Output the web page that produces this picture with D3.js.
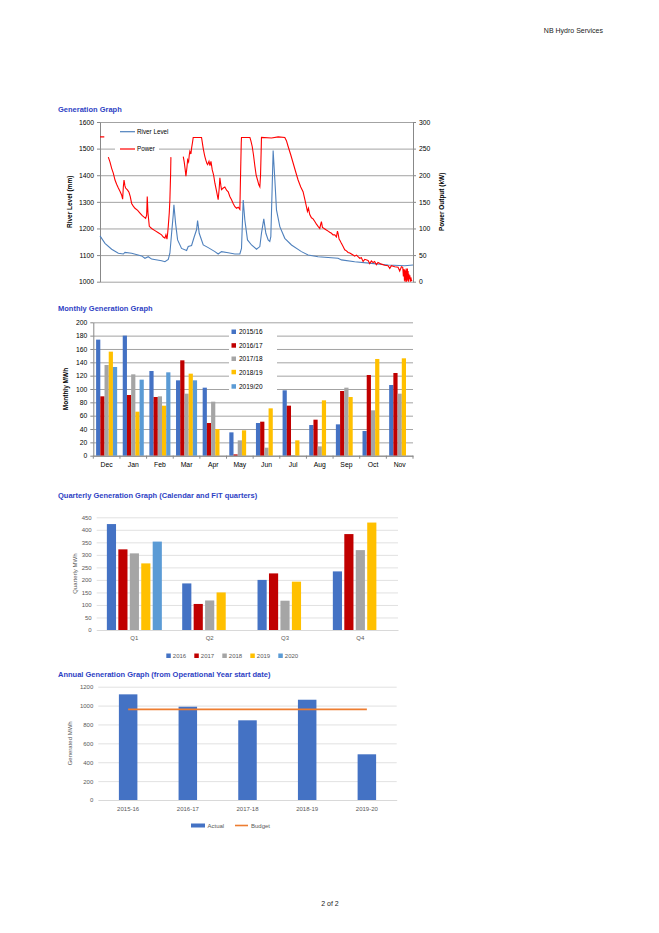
<!DOCTYPE html>
<html><head><meta charset="utf-8">
<script src="https://cdnjs.cloudflare.com/ajax/libs/d3/7.8.5/d3.min.js"></script>
<style>body{margin:0;background:#fff}svg{display:block}text{font-family:"Liberation Sans",Arial,sans-serif}</style>
</head><body><svg id="c" width="659" height="933"></svg>
<script>
// ---------- Chart 1 data ----------
const riverDay = [0,5.8,13.6,21.4,27.2,29.1,36.9,48.5,52.4,56.3,60.2,71.8,75.7,79.6,81.5,83.5,85.4,86.2,88.1,90.5,95.1,101.0,102.9,106.8,109.9,112.6,113.8,115.7,120.4,126.2,134.0,137.8,141.7,149.5,157.3,163.1,165.0,167.0,168.9,172.0,176.7,182.5,186.4,188.3,191.0,193.4,196.1,198.0,199.2,200.8,201.9,203.9,205.8,209.7,215.5,223.3,234.9,242.7,254.3,277.6,281.5,297.0,316.5,335.9,355.3,365];
const riverLevel = [1172,1144,1122,1107,1104,1110,1107,1097,1088,1094,1085,1079,1075,1084,1107,1182,1251,1289,1220,1157,1125,1117,1132,1136,1169,1195,1230,1182,1138,1128,1113,1104,1113,1109,1104,1104,1125,1307,1232,1157,1138,1122,1132,1182,1236,1182,1157,1151,1169,1358,1493,1383,1270,1207,1163,1138,1113,1100,1094,1088,1082,1075,1069,1063,1060,1063];
const powerDay = [0,5.0,7,9.7,11.6,13.6,15.5,17.5,19.4,21.4,23.3,25.2,26.4,27.2,28.0,29.1,29.9,32.2,33.8,35.3,36.9,38.8,40.8,43.9,46.6,49.3,53.2,54.4,55.1,55.9,57.5,60.2,64.1,68.0,71.8,73.8,75.7,76.9,78.1,78.9,79.6,80.8,81.5,82.3,82.7,90,97.1,98.2,99.4,100.2,101.4,102.2,103.3,104.1,104.8,106.0,106.8,107.9,108.7,118.4,120.4,121.6,122.3,123.5,124.7,125.5,127.1,128.2,129.4,130.9,132.5,134.0,135.9,137.8,139.0,139.8,141.0,141.7,143.7,145.6,147.6,149.5,151.4,153.4,155.3,157.3,159.2,161.2,163.1,163.9,164.7,165.0,174.8,175.9,177.5,179.0,180.6,182.1,183.7,185.2,186.4,187.2,188.0,188.3,200.0,207.8,215.5,217.4,219.4,222.5,225.2,227.9,231.0,234.1,236.8,238.8,240.7,241.9,243.1,244.6,246.6,248.5,250.5,252.4,254.3,256.3,257.4,258.2,259.4,261.3,264.0,266.0,267.9,269.9,271.8,273.8,275.7,276.9,277.6,278.8,280.0,281.5,283.5,285.4,287.4,289.3,291.3,293.2,295.1,297.0,299.0,300.9,302.9,304.8,306.8,308.7,312.6,314.5,316.5,318.4,320.3,322.3,324.2,328.1,332.0,335.9,337.9,339.8,343.7,347.6,349.5,351.5,353.0,353.8,354.6,355.0,355.4,355.8,356.2,356.6,357.0,357.4,357.7,358.1,358.5,358.9,359.3,359.7,360.1,360.5,361.3,361.9,362.5,363.2,364.0,365];
const powerKW = [272,272,null,234,225,213,204,191,183,176,170,163,155,178,191,180,176,172,168,160,147,142,138,134,129,124,119,125,160,130,104,100,96,92,88,84,82,88,80,91,104,130,154,200,234,null,235,225,210,198,215,229,225,238,245,240,251,262,271,271,250,240,235,228,222,220,226,218,226,210,200,185,170,154,175,195,180,173,176,178,172,169,160,154,147,141,138,140,136,200,260,271,271,265,254,238,217,200,191,182,178,200,250,271,270,272,271,265,254,238,223,208,191,178,169,155,141,132,138,126,120,118,113,108,104,100,108,113,102,100,97,95,93,91,88,88,84,95,91,80,77,72,66,60,58,55,54,52,50,48,50,47,44,45,38,42,40,34,39,36,38,32,36,33,31,30,25,30,28,27,20,28,27,10,24,2,22,0,20,3,25,0,18,4,25,2,20,0,15,5,12,0,8,2,3];
const riverTicks = [1000,1100,1200,1300,1400,1500,1600];
const powerTicks = [0,50,100,150,200,250,300];

// ---------- Chart 2 data ----------
const months = ["Dec","Jan","Feb","Mar","Apr","May","Jun","Jul","Aug","Sep","Oct","Nov"];
const seasons = ["2015/16","2016/17","2017/18","2018/19","2019/20"];
const m1516 = [174,180,127,113,102,35,49,98,46,47,37,106];
const m1617 = [89,91,88,143,49,2,51,75,54,97,121,124];
const m1718 = [136,122,89,93,81,23,12,1,14,102,68,93];
const m1819 = [156,66,75,123,40,38,71,23,83,88,145,146];
const m1920 = [133,114,125,113,null,null,null,null,null,null,null,null];
const monthlyTicks = [0,20,40,60,80,100,120,140,160,180,200];

// ---------- Chart 3 data ----------
const quarters = ["Q1","Q2","Q3","Q4"];
const years = ["2016","2017","2018","2019","2020"];
const q2016 = [423,186,200,234];
const q2017 = [322,104,226,383];
const q2018 = [306,118,117,319];
const q2019 = [266,150,193,429];
const q2020 = [353,null,null,null];
const quarterTicks = [0,50,100,150,200,250,300,350,400,450];

// ---------- Chart 4 data ----------
const opYears = ["2015-16","2016-17","2017-18","2018-19","2019-20"];
const actual = [1119,988,844,1062,484];
const budget = [960,960,960,960,960];
const annualTicks = [0,200,400,600,800,1000,1200];

const svg = d3.select("#c");
svg.append("rect").attr("width",659).attr("height",933).attr("fill","#fff");
const titleColor = "#2E3FC4";
const fmt = d3.format("d");

svg.append("text").attr("x",603).attr("y",33).attr("text-anchor","end").attr("font-size",7).attr("fill","#222").text("NB Hydro Services");
svg.append("text").attr("x",330).attr("y",906).attr("text-anchor","middle").attr("font-size",7).attr("fill","#222").text("2 of 2");

function title(y, t){ svg.append("text").attr("x",58).attr("y",y).attr("font-size",7.5).attr("font-weight","bold").attr("fill",titleColor).text(t); }
title(112,"Generation Graph");
title(311,"Monthly Generation Graph");
title(498,"Quarterly Generation Graph (Calendar and FiT quarters)");
title(677,"Annual Generation Graph (from Operational Year start date)");

function styleText(a, size, color){ a.selectAll("text").attr("font-size",size).attr("fill",color).attr("font-family","Liberation Sans, Arial"); }

// ===== Chart 1 =====
{
  const L=100,R=413,T=122,B=281.7;
  const x = d3.scaleLinear().domain([0,365]).range([L,R]);
  const yl = d3.scaleLinear().domain([1000,1600]).range([B,T]);
  const yr = d3.scaleLinear().domain([0,300]).range([B,T]);
  const g = svg.append("g");
  g.append("g").attr("transform",`translate(${L},0)`)
    .call(d3.axisLeft(yl).tickValues(riverTicks).tickSize(-(R-L)).tickFormat(""))
    .call(a=>{a.select(".domain").remove();a.selectAll(".tick line").attr("stroke","#8c8c8c").attr("stroke-width",0.8);});
  g.append("g").attr("transform",`translate(${L},0)`)
    .call(d3.axisLeft(yl).tickValues(riverTicks).tickSizeInner(3).tickSizeOuter(0).tickPadding(3).tickFormat(fmt))
    .call(a=>{a.select(".domain").attr("stroke","#888");a.selectAll(".tick line").attr("stroke","#888");styleText(a,6.8,"#000");});
  g.append("g").attr("transform",`translate(${R},0)`)
    .call(d3.axisRight(yr).tickValues(powerTicks).tickSizeInner(3).tickSizeOuter(0).tickPadding(3).tickFormat(fmt))
    .call(a=>{a.select(".domain").attr("stroke","#888");a.selectAll(".tick line").attr("stroke","#888");styleText(a,6.8,"#000");});
  // legend background
  g.append("rect").attr("x",115).attr("y",126).attr("width",44).attr("height",28).attr("fill","#fff");
  const rl = riverDay.map((d,i)=>[d,riverLevel[i]]);
  const pw = powerDay.map((d,i)=>[d,powerKW[i]]);
  g.append("path").datum(rl).attr("fill","none").attr("stroke","#4F81BD").attr("stroke-width",1.1)
    .attr("d",d3.line().x(d=>x(d[0])).y(d=>yl(d[1])));
  g.append("path").datum(pw).attr("fill","none").attr("stroke","#FF0000").attr("stroke-width",1.1)
    .attr("d",d3.line().defined(d=>d[1]!=null).x(d=>x(d[0])).y(d=>yr(d[1])));
  const leg=[["River Level","#4F81BD",131.7],["Power","#FF0000",149]];
  leg.forEach(l=>{
    g.append("line").attr("x1",120).attr("x2",135).attr("y1",l[2]).attr("y2",l[2]).attr("stroke",l[1]).attr("stroke-width",1.2);
    g.append("text").attr("x",137).attr("y",l[2]+2.3).attr("font-size",6.3).attr("fill","#000").text(l[0]);
  });
  g.append("text").attr("transform",`translate(72,${(T+B)/2}) rotate(-90)`).attr("text-anchor","middle").attr("font-size",6.5).attr("font-weight","bold").text("River Level (mm)");
  g.append("text").attr("transform",`translate(444,${(T+B)/2}) rotate(-90)`).attr("text-anchor","middle").attr("font-size",6.5).attr("font-weight","bold").text("Power Output (kW)");
}

// ===== Chart 2 =====
{
  const L=93.3,R=413,T=322.3,B=455.7;
  const x0 = d3.scaleBand().domain(months).range([L,R]).paddingInner(0.21).paddingOuter(0.105);
  const x1 = d3.scaleBand().domain(seasons).range([0,x0.bandwidth()]);
  const y = d3.scaleLinear().domain([0,200]).range([B,T]);
  const colors = ["#4472C4","#C00000","#A5A5A5","#FFC000","#5B9BD5"];
  const series = [m1516,m1617,m1718,m1819,m1920];
  const g = svg.append("g");
  g.append("g").attr("transform",`translate(${L},0)`)
    .call(d3.axisLeft(y).tickValues(monthlyTicks).tickSize(-(R-L)).tickFormat(""))
    .call(a=>{a.select(".domain").remove();a.selectAll(".tick line").attr("stroke","#8c8c8c").attr("stroke-width",0.8);});
  g.append("g").attr("transform",`translate(${L},0)`)
    .call(d3.axisLeft(y).tickValues(monthlyTicks).tickSizeInner(3).tickSizeOuter(0).tickPadding(3).tickFormat(fmt))
    .call(a=>{a.select(".domain").attr("stroke","#888");a.selectAll(".tick line").attr("stroke","#888");styleText(a,6.8,"#000");});
  g.append("rect").attr("x",229).attr("y",326).attr("width",48).attr("height",67).attr("fill","#fff");
  series.forEach((s,si)=>{
    g.append("g").selectAll("rect").data(months.map((m,i)=>({m,v:s[i]})).filter(d=>d.v!=null)).join("rect")
      .attr("x",d=>x0(d.m)+x1(seasons[si])).attr("width",x1.bandwidth())
      .attr("y",d=>y(d.v)).attr("height",d=>B-y(d.v)).attr("fill",colors[si]);
  });
  const xa = g.append("g").attr("transform",`translate(0,${B})`)
    .call(d3.axisBottom(x0).tickSize(0).tickPadding(6))
    .call(a=>{a.select(".domain").attr("stroke","#888");styleText(a,6.8,"#000");});
  const step = x0.step();
  xa.selectAll(".sep").data(d3.range(months.length+1)).join("line")
    .attr("x1",i=>L+i*step).attr("x2",i=>L+i*step).attr("y1",0).attr("y2",3).attr("stroke","#888");
  seasons.forEach((s,i)=>{
    const yy=[332,345.7,359,372.3,386.7][i];
    g.append("rect").attr("x",231.5).attr("y",yy-2.5).attr("width",4.5).attr("height",4.5).attr("fill",colors[i]);
    g.append("text").attr("x",239).attr("y",yy+2.3).attr("font-size",6.5).attr("fill","#000").text(s);
  });
  g.append("text").attr("transform",`translate(68,${(T+B)/2}) rotate(-90)`).attr("text-anchor","middle").attr("font-size",6.5).attr("font-weight","bold").text("Monthly MWh");
}

// ===== Chart 3 =====
{
  const L=96.7,R=398,T=517.3,B=630;
  const x0 = d3.scaleBand().domain(quarters).range([L,R]).paddingInner(0.27).paddingOuter(0.135);
  const x1 = d3.scaleBand().domain(years).range([0,x0.bandwidth()]).paddingInner(0.2);
  const y = d3.scaleLinear().domain([0,450]).range([B,T]);
  const colors = ["#4472C4","#C00000","#A5A5A5","#FFC000","#5B9BD5"];
  const series = [q2016,q2017,q2018,q2019,q2020];
  const g = svg.append("g");
  g.append("g").attr("transform",`translate(${L},0)`)
    .call(d3.axisLeft(y).tickValues(quarterTicks).tickSize(-(R-L)).tickPadding(5).tickFormat(fmt))
    .call(a=>{a.select(".domain").remove();a.selectAll(".tick line").attr("stroke","#D9D9D9").attr("stroke-width",0.8);styleText(a,6,"#595959");});
  series.forEach((s,si)=>{
    g.append("g").selectAll("rect").data(quarters.map((q,i)=>({q,v:s[i]})).filter(d=>d.v!=null)).join("rect")
      .attr("x",d=>x0(d.q)+x1(years[si])).attr("width",x1.bandwidth())
      .attr("y",d=>y(d.v)).attr("height",d=>B-y(d.v)).attr("fill",colors[si]);
  });
  g.append("g").attr("transform",`translate(0,${B})`)
    .call(d3.axisBottom(x0).tickSize(0).tickPadding(6))
    .call(a=>{a.select(".domain").attr("stroke","#D9D9D9");styleText(a,6,"#595959");});
  years.forEach((yv,i)=>{
    const xx = 168.3 + i*28;
    g.append("rect").attr("x",xx-2).attr("y",653.5).attr("width",4.5).attr("height",4.5).attr("fill",colors[i]);
    g.append("text").attr("x",xx+4.5).attr("y",658).attr("font-size",6).attr("fill","#595959").text(yv);
  });
  g.append("text").attr("transform",`translate(77,${(T+B)/2}) rotate(-90)`).attr("text-anchor","middle").attr("font-size",6).attr("fill","#595959").text("Quarterly MWh");
}

// ===== Chart 4 =====
{
  const L=98.3,R=396.7,T=686.7,B=800;
  const x = d3.scaleBand().domain(opYears).range([L,R]).paddingInner(0.69).paddingOuter(0.345);
  const y = d3.scaleLinear().domain([0,1200]).range([B,T]);
  const g = svg.append("g");
  g.append("g").attr("transform",`translate(${L},0)`)
    .call(d3.axisLeft(y).tickValues(annualTicks).tickSize(-(R-L)).tickPadding(5).tickFormat(fmt))
    .call(a=>{a.select(".domain").remove();a.selectAll(".tick line").attr("stroke","#D9D9D9").attr("stroke-width",0.8);styleText(a,6,"#595959");});
  g.selectAll(".bar").data(opYears.map((k,i)=>({k,v:actual[i]}))).join("rect")
    .attr("x",d=>x(d.k)).attr("width",x.bandwidth()).attr("y",d=>y(d.v)).attr("height",d=>B-y(d.v)).attr("fill","#4472C4");
  g.append("path").datum(opYears.map((k,i)=>({k,v:budget[i]}))).attr("fill","none").attr("stroke","#ED7D31").attr("stroke-width",1.6)
    .attr("d",d3.line().x(d=>x(d.k)+x.bandwidth()/2).y(d=>y(d.v)));
  g.append("g").attr("transform",`translate(0,${B})`)
    .call(d3.axisBottom(x).tickSize(0).tickPadding(7))
    .call(a=>{a.select(".domain").attr("stroke","#D9D9D9");styleText(a,6,"#595959");});
  g.append("rect").attr("x",191).attr("y",823.5).attr("width",14).attr("height",4).attr("fill","#4472C4");
  g.append("text").attr("x",207.5).attr("y",827.5).attr("font-size",6).attr("fill","#595959").text("Actual");
  g.append("line").attr("x1",235).attr("x2",248).attr("y1",825.5).attr("y2",825.5).attr("stroke","#ED7D31").attr("stroke-width",1.6);
  g.append("text").attr("x",251).attr("y",827.5).attr("font-size",6).attr("fill","#595959").text("Budget");
  g.append("text").attr("transform",`translate(72,${(T+B)/2}) rotate(-90)`).attr("text-anchor","middle").attr("font-size",6).attr("fill","#595959").text("Generated MWh");
}
</script></body></html>
